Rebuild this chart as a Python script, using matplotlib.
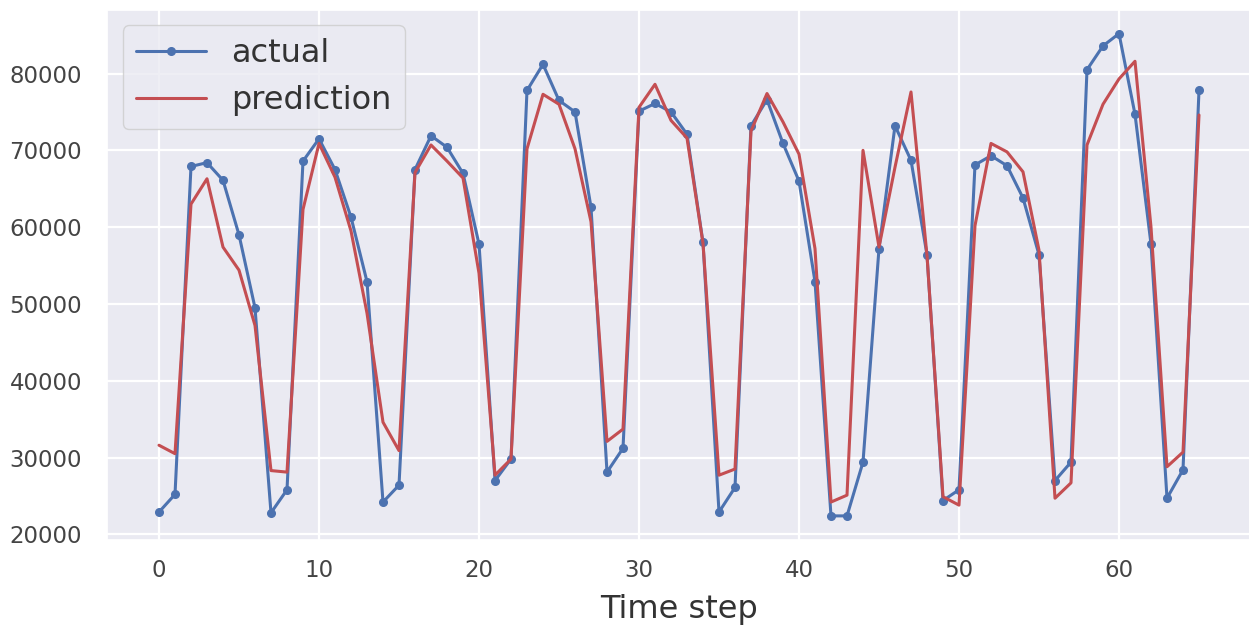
import matplotlib
matplotlib.use("Agg")
import matplotlib.pyplot as plt
import seaborn as sns

# =========================
# Data
# =========================
TIME_STEP = list(range(66))

ACTUAL = [
    22900, 25200, 67900, 68400, 66100, 59000, 49500, 22800, 25800, 68600,
    71500, 67500, 61300, 52900, 24200, 26400, 67500, 71900, 70400, 67000,
    57800, 27000, 29800, 77800, 81200, 76500, 75000, 62600, 28100, 31200,
    75100, 76100, 75000, 72100, 58000, 22900, 26100, 73200, 76600, 70900,
    66000, 52900, 22400, 22400, 29400, 57200, 73200, 68700, 56400, 24400,
    25800, 68100, 69300, 68000, 63800, 56400, 27000, 29400, 80500, 83600,
    85200, 74700, 57800, 24700, 28400, 77800,
]

PREDICTION = [
    31600, 30500, 63000, 66300, 57400, 54400, 47200, 28300, 28100, 62300,
    70900, 66500, 59500, 48800, 34600, 30900, 67100, 70700, 68600, 66400,
    54000, 27700, 29800, 70200, 77300, 76000, 70200, 60700, 32100, 33700,
    75600, 78600, 73900, 71600, 57900, 27700, 28500, 72500, 77400, 73700,
    69500, 57200, 24200, 25100, 70000, 57400, 67800, 77600, 56300, 24900,
    23800, 60200, 70900, 69800, 67200, 57000, 24700, 26700, 70700, 76000,
    79300, 81600, 60000, 28800, 30700, 74600,
]

LABELS = ["actual", "prediction"]
X_LABEL = "Time step"


# =========================
# Plot
# =========================
def plot_prediction():
    sns.set_theme(style="darkgrid")
    plt.rcParams["font.family"] = ["DejaVu Sans"]
    plt.rcParams["grid.linewidth"] = 1.6

    fig = plt.figure(figsize=(12.49, 6.27), dpi=100)
    ax = fig.add_axes([107 / 1249, 87 / 627, 1144 / 1249, 530.5 / 627])

    ax.plot(TIME_STEP, ACTUAL, ".-", color="#4C72B0", lw=2.2, ms=11, label=LABELS[0])
    ax.plot(TIME_STEP, PREDICTION, "-", color="#C44E52", lw=2.2, label=LABELS[1])

    ax.set_xlabel(X_LABEL, fontsize=23, labelpad=8, color="#333333")
    ax.tick_params(axis="both", labelsize=16.5, length=0, labelcolor="#444444")
    ax.tick_params(axis="x", pad=14)
    ax.tick_params(axis="y", pad=18)

    leg = ax.legend(loc="upper left", fontsize=23, handlelength=2.2)
    for t in leg.get_texts():
        t.set_color("#333333")

    fig.savefig("out.png", dpi=100)
    plt.close(fig)


def main():
    plot_prediction()


if __name__ == "__main__":
    main()
